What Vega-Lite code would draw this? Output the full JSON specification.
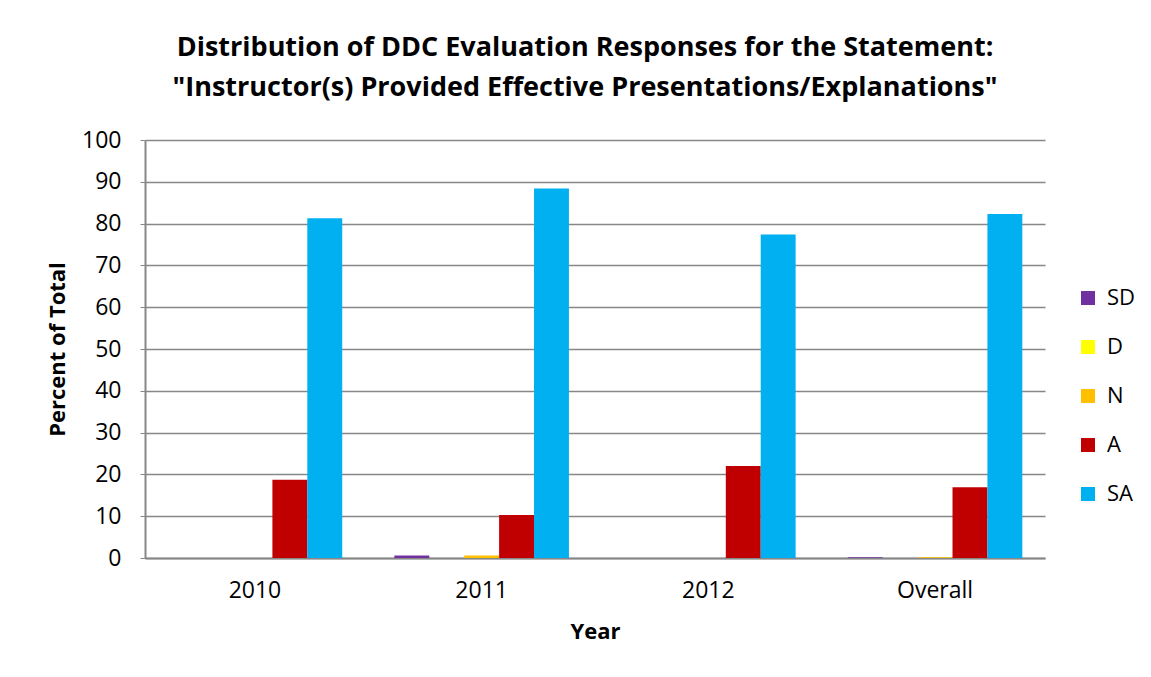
{
  "$schema": "https://vega.github.io/schema/vega-lite/v6.json",
  "autosize": {"type": "none"},
  "width": 900,
  "height": 418,
  "padding": {"left": 145, "top": 140, "right": 106, "bottom": 119},
  "background": "white",
  "title": {
    "text": ["Distribution of DDC Evaluation Responses for the Statement:", "\"Instructor(s) Provided Effective Presentations/Explanations\""],
    "font": "Open Sans",
    "fontSize": 27,
    "fontWeight": "bold",
    "color": "#000000",
    "lineHeight": 40,
    "anchor": "middle",
    "dx": -10,
    "offset": 27
  },
  "data": {
    "values": [
      {"year": "2010", "resp": "SD", "pct": 0},
      {"year": "2010", "resp": "D", "pct": 0},
      {"year": "2010", "resp": "N", "pct": 0},
      {"year": "2010", "resp": "A", "pct": 18.7},
      {"year": "2010", "resp": "SA", "pct": 81.3},
      {"year": "2011", "resp": "SD", "pct": 0.6},
      {"year": "2011", "resp": "D", "pct": 0},
      {"year": "2011", "resp": "N", "pct": 0.6},
      {"year": "2011", "resp": "A", "pct": 10.3},
      {"year": "2011", "resp": "SA", "pct": 88.4},
      {"year": "2012", "resp": "SD", "pct": 0},
      {"year": "2012", "resp": "D", "pct": 0},
      {"year": "2012", "resp": "N", "pct": 0},
      {"year": "2012", "resp": "A", "pct": 22.0},
      {"year": "2012", "resp": "SA", "pct": 77.4},
      {"year": "Overall", "resp": "SD", "pct": 0.2},
      {"year": "Overall", "resp": "D", "pct": 0},
      {"year": "Overall", "resp": "N", "pct": 0.2},
      {"year": "Overall", "resp": "A", "pct": 16.9},
      {"year": "Overall", "resp": "SA", "pct": 82.3}
    ]
  },
  "mark": {"type": "bar"},
  "encoding": {
    "x": {
      "field": "year",
      "type": "nominal",
      "sort": ["2010", "2011", "2012", "Overall"],
      "scale": {"paddingInner": 0.23, "paddingOuter": 0.1},
      "axis": {
        "title": "Year",
        "titleFont": "Open Sans",
        "titleFontSize": 22,
        "titleFontWeight": "bold",
        "titleColor": "#000000",
        "titlePadding": 19,
        "labelFont": "Open Sans",
        "labelFontSize": 23,
        "labelColor": "#000000",
        "labelAngle": 0,
        "labelPadding": 21,
        "ticks": false,
        "domainColor": "#878787",
        "domainWidth": 2
      }
    },
    "xOffset": {"field": "resp", "type": "nominal", "sort": ["SD", "D", "N", "A", "SA"]},
    "y": {
      "field": "pct",
      "type": "quantitative",
      "scale": {"domain": [0, 100]},
      "axis": {
        "title": "Percent of Total",
        "titleFont": "Open Sans",
        "titleFontSize": 22,
        "titleFontWeight": "bold",
        "titleColor": "#000000",
        "titlePadding": 12,
        "labelFont": "Open Sans",
        "labelFontSize": 23,
        "labelColor": "#000000",
        "labelPadding": 19,
        "values": [0, 10, 20, 30, 40, 50, 60, 70, 80, 90, 100],
        "tickColor": "#878787",
        "tickSize": 5,
        "gridColor": "#878787",
        "gridWidth": 1.5,
        "domainColor": "#878787",
        "domainWidth": 2
      }
    },
    "color": {
      "field": "resp",
      "type": "nominal",
      "sort": ["SD", "D", "N", "A", "SA"],
      "scale": {"domain": ["SD", "D", "N", "A", "SA"], "range": ["#7030A0", "#FFFF00", "#FFC000", "#C00000", "#00B0F0"]},
      "legend": {
        "title": null,
        "orient": "none",
        "legendX": 932,
        "legendY": 147,
        "symbolType": "square",
        "symbolSize": 196,
        "symbolStrokeWidth": 0,
        "symbolOpacity": 1,
        "labelFont": "Open Sans",
        "labelFontSize": 22,
        "labelColor": "#000000",
        "labelOffset": 8,
        "rowPadding": 27
      }
    }
  },
  "config": {"view": {"stroke": null}}
}
